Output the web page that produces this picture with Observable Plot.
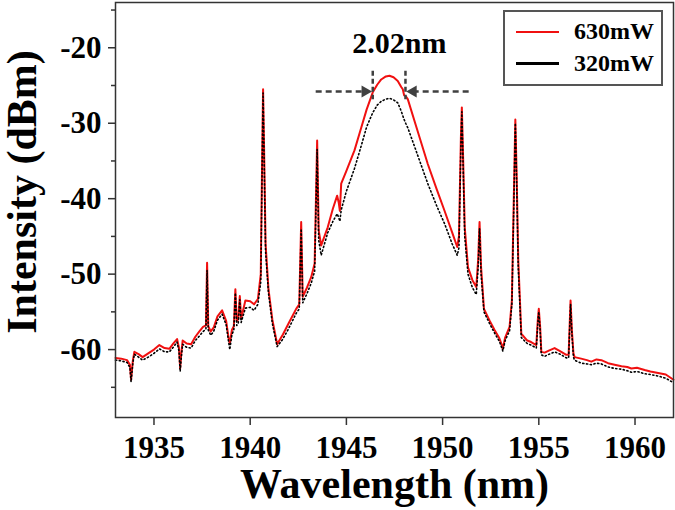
<!DOCTYPE html>
<html><head><meta charset="utf-8">
<script src="https://cdn.jsdelivr.net/npm/d3@7"></script>
<script src="https://cdn.jsdelivr.net/npm/@observablehq/plot@0.6"></script>
<style>
body{margin:0;background:#fff;}
#wrap{position:relative;width:675px;height:510px;font-family:"Liberation Serif","Times New Roman",serif;font-weight:bold;}
#legend{position:absolute;left:503px;top:10px;width:156px;height:72px;border:2px solid #555;background:#fff;}
.li{position:absolute;left:11px;width:43px;height:2.5px;}
.lt{position:absolute;left:69px;font-size:24px;line-height:24px;color:#000;white-space:nowrap;}
</style>
</head><body>
<div id="wrap"><div id="chart"></div>
<div id="legend">
<div class="li" style="top:18.5px;background:#f01010"></div><div class="lt" style="top:6.5px">630mW</div>
<div class="li" style="top:50px;background:#000"></div><div class="lt" style="top:38.5px">320mW</div>
</div></div>
<script>
const wavelength = [1933.0,1933.3,1933.6,1933.75,1933.81,1933.9,1933.98,1934.2,1934.41,1934.7,1935.0,1935.28,1935.55,1935.8,1936.0,1936.2,1936.3,1936.36,1936.42,1936.49,1936.7,1936.93,1937.15,1937.36,1937.55,1937.7,1937.76,1937.82,1937.95,1938.1,1938.3,1938.54,1938.75,1938.88,1938.94,1939.05,1939.15,1939.23,1939.3,1939.38,1939.46,1939.53,1939.75,1940.0,1940.2,1940.4,1940.55,1940.62,1940.67,1940.72,1940.8,1940.95,1941.15,1941.4,1941.7,1942.0,1942.39,1942.55,1942.65,1942.73,1942.95,1943.17,1943.35,1943.48,1943.56,1943.69,1944.03,1944.3,1944.52,1944.6,1944.66,1944.73,1945.0,1945.42,1945.77,1946.05,1946.37,1946.6,1946.81,1947.05,1947.24,1947.45,1947.67,1947.85,1947.93,1948.0,1948.08,1948.19,1948.6,1949.23,1949.7,1950.1,1950.5,1950.76,1950.85,1950.95,1951.0,1951.07,1951.15,1951.32,1951.55,1951.75,1951.85,1951.92,1952.0,1952.15,1952.45,1952.7,1952.95,1953.08,1953.13,1953.25,1953.48,1953.6,1953.7,1953.78,1953.85,1953.93,1954.09,1954.4,1954.6,1954.87,1954.95,1955.0,1955.07,1955.13,1955.3,1955.55,1955.82,1956.1,1956.43,1956.55,1956.6,1956.65,1956.72,1956.8,1956.86,1957.2,1957.5,1957.73,1958.0,1958.25,1958.6,1958.94,1959.3,1959.6,1959.81,1960.1,1960.5,1960.8,1961.2,1961.6,1962.0];
const p630 = [-61.1,-61.2,-61.4,-62.0,-64.0,-61.5,-60.3,-60.6,-61.0,-60.5,-60.0,-59.4,-59.8,-59.9,-59.2,-58.6,-59.8,-62.5,-60.5,-58.8,-59.2,-59.3,-58.3,-57.6,-57.0,-56.8,-48.5,-56.9,-57.6,-57.1,-55.6,-54.8,-56.2,-58.5,-59.2,-57.4,-56.9,-52.0,-56.2,-56.0,-52.9,-55.9,-53.5,-53.6,-54.0,-53.3,-50.0,-35.0,-25.5,-33.0,-46.0,-52.0,-56.0,-59.3,-58.0,-56.5,-54.6,-54.0,-43.1,-53.0,-51.8,-50.4,-48.6,-32.3,-44.2,-46.2,-43.8,-41.3,-39.6,-40.5,-41.6,-38.0,-36.3,-33.6,-30.6,-28.2,-25.9,-24.9,-24.2,-23.8,-23.7,-23.9,-24.4,-25.2,-25.5,-26.3,-26.4,-26.8,-30.2,-35.4,-38.8,-41.6,-44.5,-46.4,-45.0,-32.0,-27.9,-35.0,-43.8,-49.1,-50.8,-51.7,-48.0,-43.1,-49.1,-54.6,-56.2,-57.4,-58.5,-59.4,-59.9,-58.4,-57.0,-53.5,-40.0,-29.5,-37.0,-48.0,-57.9,-58.8,-59.0,-59.4,-56.0,-54.6,-57.0,-60.3,-60.4,-60.1,-59.8,-60.2,-60.7,-60.7,-57.0,-53.5,-57.5,-60.5,-61.0,-61.2,-61.4,-61.6,-61.3,-61.4,-61.8,-62.0,-62.2,-62.3,-62.5,-62.4,-62.7,-62.9,-63.1,-63.3,-64.0];
const p320 = [-61.4,-61.5,-61.7,-62.4,-64.3,-61.8,-60.6,-61.0,-61.4,-61.0,-60.5,-59.9,-60.3,-60.3,-59.7,-59.0,-60.2,-62.9,-61.0,-59.3,-59.7,-59.8,-58.8,-58.2,-57.6,-57.3,-49.5,-57.4,-58.1,-57.6,-56.1,-55.3,-56.7,-59.0,-60.0,-58.0,-57.4,-52.5,-56.8,-56.5,-53.4,-56.4,-54.5,-54.4,-54.8,-54.0,-51.0,-36.0,-26.0,-34.0,-47.0,-52.5,-56.5,-59.6,-58.6,-57.2,-55.2,-54.6,-44.0,-53.8,-52.6,-51.2,-49.6,-33.5,-45.5,-47.5,-44.5,-43.0,-42.0,-42.5,-43.0,-41.5,-39.0,-36.0,-33.0,-30.5,-28.6,-27.6,-27.1,-26.8,-26.7,-26.9,-27.3,-28.4,-29.0,-29.5,-30.0,-30.6,-33.5,-38.0,-41.0,-43.3,-46.0,-47.5,-46.5,-33.0,-28.5,-36.0,-45.0,-50.0,-51.8,-52.7,-49.0,-44.0,-50.0,-55.0,-56.6,-57.8,-58.9,-59.8,-60.2,-58.8,-57.5,-54.0,-41.0,-30.0,-38.0,-49.0,-58.4,-59.2,-59.4,-59.8,-56.5,-55.0,-57.5,-60.7,-60.9,-60.6,-60.3,-60.6,-61.1,-61.1,-57.5,-54.0,-58.0,-61.0,-61.4,-61.8,-61.9,-62.0,-61.8,-61.9,-62.3,-62.5,-62.6,-62.8,-63.0,-62.9,-63.2,-63.3,-63.5,-63.8,-64.4];
const xTicks = [1935,1940,1945,1950,1955,1960];
const yTicks = [-60,-50,-40,-30,-20];
const yMinor = [-65,-55,-45,-35,-25,-15];
const seriesNames = ["630mW","320mW"];
const fwhmLabel = "2.02nm";
const fwhmMarkers = [1946.37,1948.07];
const fwhmLevel = -25.8;
const markerTop = -23.1, markerBottom = -26.9;
const arrowOuter = [1943.43,1951.49];
const arrowHeadCenter = [1945.97,1948.47];
const labelPos = {x:1947.75, y:-19.4};

const rows = wavelength.map((w,i)=>({w, a:p630[i], b:p320[i]}));
const vLines = fwhmMarkers.map(x=>({x, y1:markerTop, y2:markerBottom}));
const hLines = [{x1:arrowOuter[0], x2:arrowHeadCenter[0]},{x1:arrowHeadCenter[1], x2:arrowOuter[1]}];
const ink = "#404040";

const chart = Plot.plot({
  width:675, height:510, marginLeft:115, marginRight:2, marginTop:2, marginBottom:93,
  x:{domain:[1933,1962]}, y:{domain:[-69,-14]},
  style:{fontFamily:'"Liberation Serif","Times New Roman",serif', fontWeight:"bold", fontSize:"31px", color:"#000", background:"#fff", overflow:"visible"},
  marks:[
    Plot.axisX({ticks:xTicks, tickFormat:d=>`${d}`, tickSize:8, tickPadding:10, label:null, stroke:"#333", strokeWidth:1.5}),
    Plot.axisY({ticks:yTicks, tickFormat:d=>`${d}`, tickSize:7, tickPadding:7, label:null, stroke:"#333", strokeWidth:1.5}),
    Plot.axisY({ticks:yMinor, tickSize:4, text:null, label:null, stroke:"#333", strokeWidth:1.5}),
    Plot.line(rows,{x:"w", y:"a", stroke:"#f01010", strokeWidth:2}),
    Plot.line(rows,{x:"w", y:"b", stroke:"#000", strokeWidth:1.6, strokeDasharray:"1.2,2.6"}),
    Plot.ruleX(vLines,{x:"x", y1:"y1", y2:"y2", stroke:ink, strokeWidth:2.5, strokeDasharray:"5,3"}),
    Plot.ruleY(hLines,{y:fwhmLevel, x1:"x1", x2:"x2", stroke:ink, strokeWidth:2.5, strokeDasharray:"6,4"}),
    Plot.dot([arrowHeadCenter[0]],{x:d=>d, y:fwhmLevel, symbol:"triangle", r:4.5, fill:ink, rotate:90}),
    Plot.dot([arrowHeadCenter[1]],{x:d=>d, y:fwhmLevel, symbol:"triangle", r:4.5, fill:ink, rotate:-90}),
    Plot.text([fwhmLabel],{x:labelPos.x, y:labelPos.y, text:d=>d, fontSize:30, fill:"#000"}),
    Plot.text(["Wavelength (nm)"],{frameAnchor:"bottom", text:d=>d, dy:80, fontSize:42, fill:"#000", letterSpacing:"0.8px"}),
    Plot.text(["Intensity (dBm)"],{frameAnchor:"left", textAnchor:"middle", text:d=>d, dx:-93, dy:-18, rotate:-90, fontSize:42, fill:"#000"}),
    Plot.frame({stroke:"#333", strokeWidth:1.5})
  ]
});
document.getElementById("chart").appendChild(chart);
</script>
</body></html>
